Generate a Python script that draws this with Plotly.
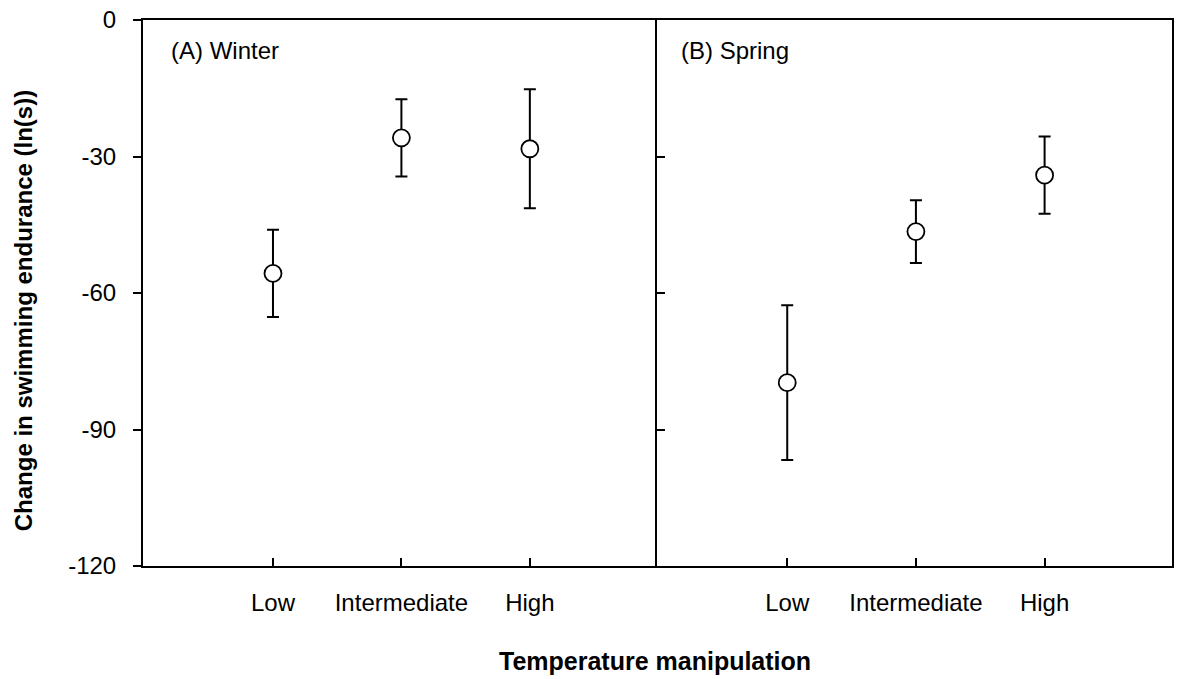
import plotly.graph_objects as go
from plotly.subplots import make_subplots

# Data
categories = ["Low", "Intermediate", "High"]
winter_mean = [-55.7, -25.9, -28.3]
winter_err = [9.6, 8.5, 13.1]
spring_mean = [-79.7, -46.5, -34.1]
spring_err = [17.0, 6.9, 8.5]
panel_labels = ["(A) Winter", "(B) Spring"]
y_ticks = [0, -30, -60, -90, -120]
y_ticktext = ["0", "-30", "-60", "-90", "-120"]

FONT = "Liberation Sans, Arial, sans-serif"
W, H = 1179, 679
ML, MR, MT, MB = 143, 5, 20, 113
PW = W - ML - MR
PH = H - MT - MB


def px_x(x):
    return (x - ML) / PW


def px_y(y):
    return (H - MB - y) / PH


fig = make_subplots(rows=1, cols=2, shared_yaxes=True, horizontal_spacing=0)

for col, (mean, err) in enumerate([(winter_mean, winter_err), (spring_mean, spring_err)], start=1):
    fig.add_trace(
        go.Scatter(
            x=categories, y=mean,
            mode="markers",
            marker=dict(symbol="circle", size=17, color="white",
                        line=dict(color="black", width=1.8)),
            error_y=dict(type="data", array=err, visible=True,
                         color="black", thickness=2, width=6),
            showlegend=False,
        ),
        row=1, col=col,
    )

split = px_x(658)

fig.update_xaxes(
    range=[-1.012, 2.99],
    showline=True, linecolor="black", linewidth=2,
    ticks="inside", ticklen=8, tickwidth=2, tickcolor="black",
    showgrid=False, zeroline=False, mirror=True,
    tickfont=dict(family=FONT, size=24, color="black"),
    ticklabelstandoff=14,
)
fig.update_layout(
    xaxis=dict(domain=[0, split]),
    xaxis2=dict(domain=[split, 1]),
)

fig.update_yaxes(
    range=[-120, 0], tickvals=y_ticks, ticktext=y_ticktext,
    showline=True, linecolor="black", linewidth=2,
    tickwidth=2, tickcolor="black", ticklen=8,
    showgrid=False, zeroline=False,
    tickfont=dict(family=FONT, size=24, color="black"),
)
fig.update_yaxes(ticks="outside", ticklabelstandoff=12, row=1, col=1)
fig.update_yaxes(ticks="inside", mirror=True, showticklabels=False, row=1, col=2)

annotations = [
    dict(text=panel_labels[0], x=px_x(169), y=px_y(50),
         xref="paper", yref="paper", xanchor="left", yanchor="middle",
         showarrow=False, font=dict(family=FONT, size=24, color="black")),
    dict(text=panel_labels[1], x=px_x(680), y=px_y(50),
         xref="paper", yref="paper", xanchor="left", yanchor="middle",
         showarrow=False, font=dict(family=FONT, size=24, color="black")),
    dict(text="<b>Temperature manipulation</b>", x=px_x(656), y=px_y(661),
         xref="paper", yref="paper", xanchor="center", yanchor="middle",
         showarrow=False, font=dict(family=FONT, size=25, color="black")),
    dict(text="<b>Change in swimming endurance (ln(s))</b>", x=px_x(23), y=px_y(311),
         xref="paper", yref="paper", textangle=-90,
         xanchor="center", yanchor="middle", showarrow=False,
         font=dict(family=FONT, size=24, color="black")),
]

fig.update_layout(
    width=W, height=H,
    margin=dict(l=ML, r=MR, t=MT, b=MB),
    plot_bgcolor="white", paper_bgcolor="white",
    annotations=annotations,
    showlegend=False,
)

# drop the default page margin so the figure sits at the window's corner
fig.write_html(
    "out.html",
    config={"displayModeBar": False},
    post_script="document.body.style.margin='0';",
)
